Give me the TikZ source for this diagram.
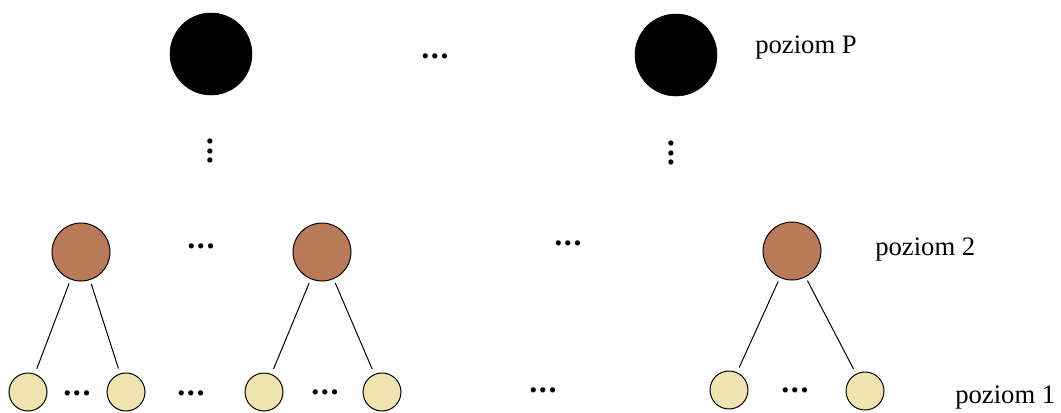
\documentclass[tikz,border=0pt]{standalone}
\usepackage{fontspec}
\setmainfont{Liberation Serif}
\definecolor{brazowy}{HTML}{B97A57}
\definecolor{kremowy}{HTML}{EFE4B0}
\newcommand{\kropki}{.\kern1.2pt.\kern1.2pt.}

\begin{document}
\begin{tikzpicture}[x=0.75pt, y=-0.75pt,
        poziomP/.style={draw, circle, fill=black, inner sep=0pt, minimum size=61.5pt},
        poziom2/.style={draw, circle, fill=brazowy, line width=0.75pt, inner sep=0pt, minimum size=43.5pt},
        poziom1/.style={draw, circle, fill=kremowy, line width=0.75pt, inner sep=0pt, minimum size=28.5pt},
        kropki/.style={inner sep=0pt, font=\fontsize{24}{28}\selectfont\bfseries},
        etykieta/.style={inner sep=0pt, anchor=base west, font=\fontsize{20}{24}\selectfont},
        krawedz/.style={line width=0.75pt, shorten <=3pt, shorten >=4pt}]
    \useasboundingbox (0,0) rectangle (1061,412);

    % poziom P
    \node[poziomP] (top1) at (211,54) {};
    \node[poziomP] (top2) at (676,55) {};
    \node[kropki] (dotsP) at (435,56) {\kropki};
    \node[etykieta] (labP) at (755,53) {poziom P};
    \node[kropki, rotate=90] (vdots1) at (210,151) {\kropki};
    \node[kropki, rotate=90] (vdots2) at (671,153) {\kropki};

    % poziom 2
    \node[poziom2] (mid1) at (81,252) {};
    \node[poziom2] (mid2) at (322,252) {};
    \node[poziom2] (mid3) at (792,251) {};
    \node[kropki] (dots2a) at (201,246) {\kropki};
    \node[kropki] (dots2b) at (568,243) {\kropki};
    \node[etykieta] (lab2) at (875,255) {poziom 2};

    % poziom 1
    \node[poziom1] (leaf1) at (28,392) {};
    \node[poziom1] (leaf2) at (126,392) {};
    \node[poziom1] (leaf3) at (264,392) {};
    \node[poziom1] (leaf4) at (382,392) {};
    \node[poziom1] (leaf5) at (729,390) {};
    \node[poziom1] (leaf6) at (865,391) {};
    \node[kropki] (dots1a) at (77,393) {\kropki};
    \node[kropki] (dots1b) at (191,393) {\kropki};
    \node[kropki] (dots1c) at (325,392) {\kropki};
    \node[kropki] (dots1d) at (543,390) {\kropki};
    \node[kropki] (dots1e) at (795,390) {\kropki};
    \node[etykieta] (lab1) at (955,403) {poziom 1};

    \draw[krawedz] (mid1) -- (leaf1);
    \draw[krawedz] (mid1) -- (leaf2);
    \draw[krawedz] (mid2) -- (leaf3);
    \draw[krawedz] (mid2) -- (leaf4);
    \draw[krawedz] (mid3) -- (leaf5);
    \draw[krawedz] (mid3) -- (leaf6);
\end{tikzpicture}
\end{document}
